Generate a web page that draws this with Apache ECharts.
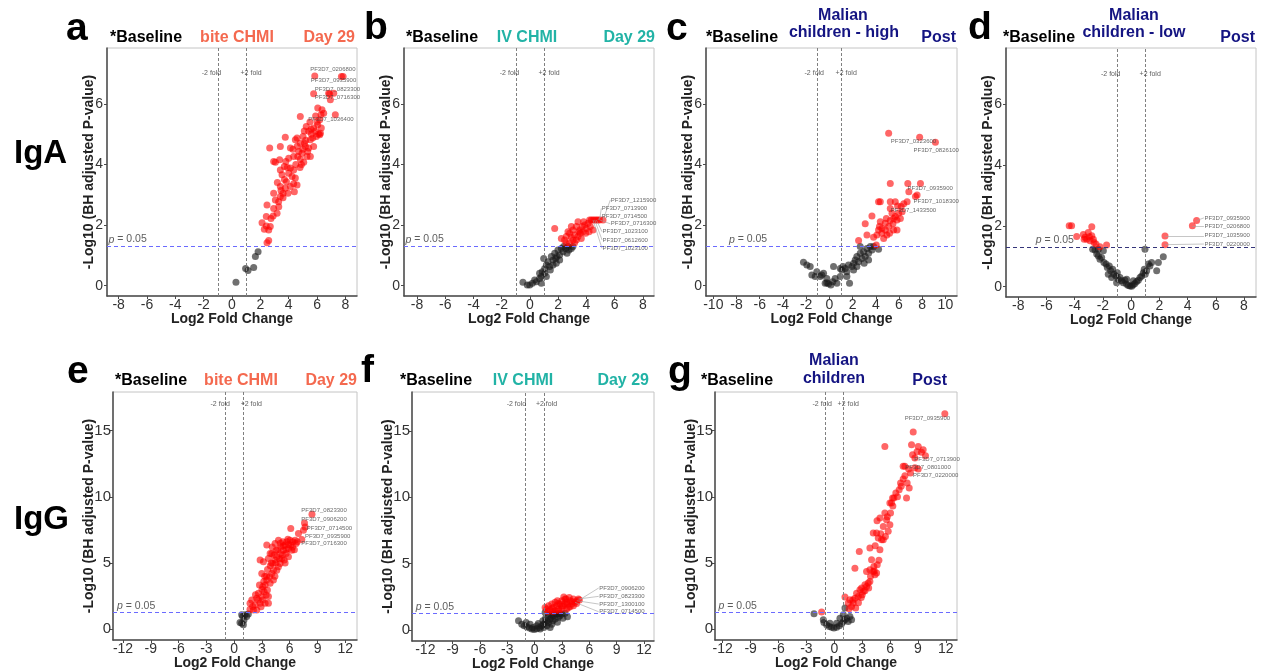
<!DOCTYPE html>
<html><head><meta charset="utf-8">
<script src="https://cdn.jsdelivr.net/npm/echarts@6/dist/echarts.min.js"></script>
<style>html,body{margin:0;padding:0;background:#fff}#c{width:1263px;height:671px}</style>
</head><body><div id="c"></div>
<script>
// ---------- DATA ----------
const xTicksTop = [-8,-6,-4,-2,0,2,4,6,8];
const xTicksC = [-10,-8,-6,-4,-2,0,2,4,6,8,10];
const xTicksBottom = [-12,-9,-6,-3,0,3,6,9,12];
const yTicksTop = [0,2,4,6];
const yTicksBottom = [0,5,10,15];
const pThreshold = 1.301; // -log10(0.05)
const foldLines = [-1, 1];

// Panel a: IgA, bite CHMI, Day 29
const aRed = [[2.47,1.42],[2.59,1.49],[2.12,2.08],[2.42,1.97],[2.59,1.84],[2.7,1.95],[2.75,2.22],[2.42,2.28],[2.28,1.86],
[2.47,2.66],[2.94,2.55],[3.06,2.83],[3.29,2.77],[3.41,2.94],[3.18,2.39],[3.6,3.05],[3.46,3.14],[3.76,3.21],[3.95,3.05],[3.41,3.27],[2.94,3.05],
[3.41,3.82],[3.53,3.66],[2.94,4.1],[3.06,4.07],[3.36,4.15],[3.69,3.93],[4.12,3.88],[4.35,3.82],[4.0,3.71],[4.24,3.6],[4.47,3.55],[4.35,3.36],[4.59,3.32],[3.84,3.43],[4.12,3.27],
[2.66,4.54],[3.41,4.59],[3.76,4.9],[4.12,4.54],[4.47,4.81],[4.59,4.87],[4.82,4.7],[5.01,4.92],[5.18,4.59],[5.41,4.54],[4.64,4.26],[4.94,4.37],[5.29,4.26],[5.06,4.07],[4.82,4.17],[4.35,4.26],[4.71,4.43],[5.34,4.43],[5.11,4.7],[5.53,4.81],
[4.82,5.58],[5.24,5.25],[5.58,5.16],[5.76,5.2],[5.88,5.09],[6.05,5.31],[6.19,5.47],[6.24,5.03],[5.95,4.92],[5.69,4.87],[5.41,5.09],[6.28,5.64],[6.35,5.8],[6.05,5.86],[6.47,5.69],[6.19,4.98],[5.76,4.59],[5.53,4.26],
[7.29,5.64],[6.94,6.13],[6.82,6.35],[6.89,6.32],[7.18,6.35],[5.76,6.33],[5.84,6.92],[7.72,6.9],[7.84,6.9],
[4.9,4.0],[5.0,4.5],[4.6,4.6],[5.2,4.8],[5.6,5.0],[6.0,5.4],[5.9,5.6],[6.3,5.2],[4.3,4.5],[4.0,4.2],[3.7,3.5],[3.9,3.9],[4.4,3.1],[3.2,3.4],[3.3,2.6],[2.9,2.3],[3.6,2.9],[4.8,3.9],[5.1,5.1],[5.5,5.4],[6.1,5.0],[4.5,4.0],[3.8,4.1]];
const aBlack = [[0.28,0.11],[0.96,0.57],[1.13,0.5],[1.53,0.6],[1.65,0.96],[1.84,1.12]];
const aLabels = [["PF3D7_0206800",5.48,7.12],["PF3D7_0935900",5.53,6.76],["PF3D7_0823300",5.81,6.48],["PF3D7_0716300",5.81,6.21],["PF3D7_1036400",5.34,5.5]];

// Panel b: IgA, IV CHMI, Day 29
const bRed = [[1.75,1.89],[2.22,1.56],[2.45,1.51],[2.57,1.62],[2.69,1.78],[2.81,1.73],[2.93,1.6],[3.04,1.84],[3.16,1.67],[3.28,1.95],[3.4,2.11],[3.52,1.84],[3.56,1.73],[3.7,1.95],[3.75,1.78],[3.87,2.0],[3.99,1.89],[4.11,2.06],[4.22,2.17],[4.34,2.17],[4.46,2.17],[4.58,2.17],[4.7,2.17],[4.81,2.17],[4.93,2.17],[5.17,2.17],[4.27,1.95],[4.46,1.84],[3.04,1.51],[3.28,1.51],[3.4,1.62],[3.63,1.56],[2.57,1.4],[2.81,1.4],[3.16,1.42],[3.47,1.78],[3.8,2.11],[4.18,1.78],[3.94,1.73],[2.93,1.95]];
const bBlack = [[-0.5,0.11],[-0.19,0.02],[-0.02,0.02],[0.17,0.08],[0.33,0.19],[0.45,0.13],[0.68,0.24],[0.8,0.3],[0.87,0.46],[1.04,0.41],[1.04,0.57],[1.16,0.68],[0.97,0.9],[1.27,0.79],[1.39,0.63],[1.51,0.96],[1.63,0.85],[1.75,1.07],[1.82,0.9],[1.91,0.96],[1.98,1.18],[2.1,1.01],[2.22,1.23],[2.34,1.12],[2.38,1.29],[2.53,1.23],[2.62,1.07],[2.69,1.29],[2.76,1.18],[2.93,1.23],[3.04,1.29],[2.1,0.85],[1.44,0.52],[0.8,0.08],[1.16,0.3],[1.63,0.68],[1.86,0.74],[0.68,0.41]];
const bLabels = [["PF3D7_1215900",5.69,2.83,5.17,2.17],["PF3D7_0713900",5.05,2.55,4.93,2.17],["PF3D7_0714500",5.05,2.3,4.81,2.17],["PF3D7_0716300",5.69,2.04,4.93,2.17],["PF3D7_1023100",5.1,1.78,4.7,2.17],["PF3D7_0612600",5.1,1.51,4.58,2.17],["PF3D7_1023100",5.1,1.23,4.46,2.17]];

// Panel c: IgA, Malian children - high, Post
const cRed = [[2.52,1.49],[3.24,1.67],[3.09,2.04],[3.67,2.3],[3.81,1.6],[4.04,1.34],[4.1,1.67],[4.24,1.84],[4.32,1.95],[4.39,2.11],[4.53,1.73],[4.68,1.56],[4.82,1.84],[4.91,2.22],[4.96,1.67],[5.11,1.95],[5.19,1.73],[5.25,2.15],[5.4,2.39],[5.48,2.04],[5.54,2.22],[5.68,2.28],[5.83,2.17],[5.97,2.39],[6.12,2.22],[6.27,2.44],[6.19,2.61],[6.41,2.7],[6.7,2.77],[6.85,3.1],[7.42,2.94],[7.56,2.99],[5.25,2.77],[5.68,2.77],[5.88,2.63],[4.24,2.77],[4.39,2.77],[5.25,3.37],[6.76,3.37],[7.85,3.37],[5.11,5.03],[7.78,4.9],[9.14,4.73],[5.25,2.55],[5.54,1.84],[5.83,1.84],[4.53,1.89],[4.82,2.06]];
const cBlack = [[-2.23,0.77],[-1.94,0.68],[-1.65,0.63],[-1.51,0.35],[-1.22,0.3],[-1.08,0.46],[-0.79,0.3],[-0.65,0.35],[-0.5,0.41],[-0.36,0.08],[-0.22,0.1],[-0.07,0.06],[0.13,0.02],[0.3,0.13],[0.5,0.24],[0.65,0.08],[0.94,0.3],[1.08,0.52],[1.17,0.63],[1.37,0.57],[1.51,0.46],[1.65,0.68],[1.74,0.08],[1.94,0.63],[2.09,0.74],[2.23,0.85],[2.37,0.96],[2.52,0.79],[2.66,1.07],[2.81,0.9],[2.95,1.12],[3.0,0.74],[3.09,0.96],[3.24,1.23],[3.38,1.07],[3.53,1.29],[3.67,1.18],[3.81,1.29],[4.24,1.2],[2.66,1.29],[2.37,0.63],[1.51,0.3],[0.94,0.57],[2.09,0.52],[3.38,0.85],[0.36,0.63],[-0.22,0.24]];
const cLabels = [["PF3D7_0323600",5.25,4.76],["PF3D7_0826100",7.21,4.48],["PF3D7_0935900",6.69,3.21],["PF3D7_1018300",7.21,2.77],["PF3D7_1433500",5.25,2.5]];

// Panel d: IgA, Malian children - low, Post
const dRed = [[-4.39,2.0],[-4.22,2.0],[-3.86,1.65],[-3.39,1.71],[-3.27,1.62],[-3.04,1.78],[-3.15,1.56],[-2.91,1.51],[-2.79,1.97],[-2.68,1.56],[-2.63,1.45],[-2.49,1.4],[-2.79,1.67],[-3.33,1.56],[-1.74,1.37],[-2.21,1.31],[-2.96,1.64],[2.4,1.66],[2.4,1.38],[4.34,2.0],[4.64,2.17]];
const dBlack = [[-2.73,1.23],[-2.56,1.2],[-2.44,1.07],[-2.32,1.01],[-2.21,0.9],[-2.09,0.96],[-1.97,1.18],[-1.93,0.79],[-1.78,0.74],[-1.69,0.63],[-1.55,0.68],[-1.45,0.52],[-1.31,0.57],[-1.22,0.41],[-1.08,0.35],[-0.98,0.46],[-0.91,0.24],[-0.79,0.3],[-0.67,0.19],[-0.56,0.13],[-0.44,0.21],[-0.32,0.08],[-0.2,0.04],[-0.08,0.02],[0.04,0.01],[0.15,0.06],[0.27,0.1],[0.39,0.17],[0.51,0.21],[0.63,0.3],[0.75,0.35],[0.86,0.46],[0.93,0.57],[1.0,0.41],[1.1,0.52],[1.22,0.74],[1.33,0.68],[1.45,0.79],[0.98,1.23],[1.93,0.79],[1.81,0.52],[2.28,0.98],[-1.38,0.3],[-1.03,0.13],[-1.62,0.41],[0.15,0.19],[-0.32,0.24],[-2.32,1.23]];
const dLabels = [["PF3D7_0935900",5.16,2.26,4.64,2.17],["PF3D7_0206800",5.16,1.99,4.34,2.0],["PF3D7_1035900",5.16,1.67,2.4,1.66],["PF3D7_0220000",5.16,1.4,2.4,1.38]];

// Panel e: IgG, bite CHMI, Day 29
const eRed = [[1.71,1.5],[2.0,1.71],[1.9,2.21],[2.26,1.83],[2.44,2.33],[2.62,2.71],[2.8,1.96],[2.98,2.46],[3.09,3.21],[3.23,2.83],[3.34,3.34],[3.52,3.71],[3.7,1.96],[3.59,2.96],[3.45,2.58],[3.81,3.96],[3.88,3.46],[4.06,4.21],[2.98,4.21],[2.8,5.22],[3.16,5.09],[3.7,5.34],[3.52,6.35],[3.88,5.72],[4.17,4.97],[4.24,4.46],[4.42,5.22],[4.53,5.97],[4.6,5.47],[4.78,4.72],[4.96,5.72],[5.04,6.22],[5.14,5.34],[5.25,6.6],[5.32,5.97],[5.5,6.35],[5.61,5.72],[5.68,6.6],[5.86,6.1],[6.04,6.72],[6.11,6.35],[6.33,6.6],[6.58,6.72],[6.69,6.47],[6.11,7.6],[6.94,7.22],[7.3,6.77],[7.48,7.47],[7.66,7.72],[7.59,8.03],[8.4,8.68],[3.34,1.96],[3.7,2.46],[2.44,1.45],[2.73,3.34],[4.24,3.71],[4.6,4.46],[4.96,4.97],[4.78,6.72],[5.4,5.22],[5.86,5.47],[6.22,5.97],[4.42,6.47],[4.06,5.72],[2.08,1.45],[1.71,1.96],
[3.0,3.0],[3.3,4.0],[3.6,4.5],[4.0,5.0],[4.3,5.6],[4.7,6.0],[5.0,6.5],[5.3,6.3],[5.6,6.0],[5.9,6.4],[6.3,6.2],[4.5,5.0],[4.9,5.3],[3.9,4.8],[3.5,4.0],[3.2,3.6],[2.6,2.2],[2.3,2.6],[4.1,6.2],[5.5,5.0],[6.5,6.0],[2.9,1.7],[3.1,2.2],[4.4,4.0],[5.2,5.6],[5.8,6.8],[6.8,6.6]];
const eBlack = [[0.81,0.45],[0.99,0.33],[0.63,0.5],[0.92,0.95],[1.17,1.08],[1.35,0.95],[1.06,0.7],[0.81,1.08],[1.53,1.15]];
const eLabels = [["PF3D7_0823300",7.2,8.98],["PF3D7_0906200",7.2,8.28],["PF3D7_0714500",7.78,7.65],["PF3D7_0935900",7.6,7.05],["PF3D7_0716300",7.2,6.47]];

// Panel f: IgG, IV CHMI, Day 29
const fRed = [[1.15,1.71],[1.33,1.59],[1.52,1.84],[1.7,1.51],[1.88,1.96],[2.06,1.71],[2.25,2.09],[2.43,1.84],[2.61,1.59],[2.79,1.96],[2.98,2.21],[3.16,1.84],[3.34,2.34],[3.52,2.09],[3.71,1.71],[3.89,2.21],[4.07,1.96],[4.25,2.34],[4.43,2.09],[4.62,2.21],[4.8,2.34],[4.91,2.27],[2.25,1.46],[2.98,1.59],[3.52,1.59],[3.89,1.76],[4.25,1.84],[1.4,1.4],[2.0,1.4],[2.5,2.2],[2.7,1.45],[3.0,1.8],[3.3,2.0],[3.6,1.95],[3.8,2.45],[4.1,2.15],[3.2,2.5],[2.6,2.0],[1.9,1.65],[4.6,2.0],[3.45,2.35]];
const fBlack = [[-1.77,0.7],[-1.41,0.45],[-1.15,0.33],[-0.86,0.25],[-0.57,0.15],[-0.31,0.08],[-0.05,0.05],[0.24,0.1],[0.53,0.2],[0.79,0.33],[0.97,0.45],[1.15,0.58],[1.33,0.7],[1.52,0.58],[1.7,0.83],[1.88,0.96],[2.06,1.08],[2.25,0.83],[2.43,1.21],[2.61,0.96],[2.79,1.08],[2.98,1.21],[1.88,0.45],[1.7,0.2],[1.33,0.33],[-0.49,0.45],[-0.93,0.58],[3.34,1.26],[0.24,0.33],[0.9,0.7],[0.6,0.08],[1.2,0.9],[1.5,1.1],[2.2,1.25],[2.5,0.6],[3.1,0.9],[1.0,0.2],[-0.2,0.2],[0.4,0.5],[2.0,0.7],[2.7,1.25],[3.6,1.0],[1.8,1.2],[1.15,1.33]];
const fLabels = [["PF3D7_0906200",7.03,3.17,4.91,2.27],["PF3D7_0823300",7.03,2.54,4.8,2.34],["PF3D7_1300100",7.03,1.96,4.62,2.21],["PF3D7_0714500",7.03,1.38,4.43,2.09]];

// Panel g: IgG, Malian children, Post
const gRed = [[-1.36,1.29],[1.15,2.42],[1.5,1.97],[1.68,2.22],[1.86,1.71],[2.04,1.97],[2.22,2.34],[2.4,2.72],[2.58,2.47],[2.76,2.97],[2.94,3.1],[3.12,2.85],[3.3,3.35],[3.47,3.23],[3.65,3.48],[3.83,3.6],[3.47,4.36],[3.83,4.49],[4.01,5.24],[4.19,4.36],[4.26,4.74],[4.37,4.11],[4.55,4.24],[4.62,4.87],[2.69,5.87],[2.22,4.61],[3.83,6.13],[4.19,7.26],[4.55,7.26],[4.73,6.88],[4.91,6.0],[5.09,6.75],[5.27,7.76],[5.44,8.77],[5.62,8.27],[5.8,7.39],[5.98,7.89],[6.05,8.77],[4.91,8.4],[5.27,6.75],[5.44,13.81],[5.98,9.53],[6.27,9.91],[6.41,9.91],[6.62,10.29],[6.98,10.54],[7.13,11.04],[7.41,11.34],[7.77,9.91],[7.84,11.04],[8.06,10.67],[8.2,11.8],[7.41,12.3],[7.59,12.3],[8.42,13.18],[8.49,14.9],[8.31,13.94],[8.67,12.93],[9.03,13.81],[9.56,13.56],[9.81,13.11],[9.38,13.36],[9.03,12.1],[8.67,12.2],[11.89,16.28],[6.16,9.53],
[2.3,1.6],[2.6,2.0],[3.0,2.6],[3.3,2.9],[3.7,3.1],[3.9,4.0],[4.3,4.4],[4.8,5.2],[4.4,6.3],[5.0,7.2],[5.5,7.0],[4.6,8.2],[5.7,8.5],[6.3,9.3],[6.8,10.0],[7.2,10.8],[7.6,11.6],[8.0,12.1],[8.9,13.4],[2.0,2.2],[1.6,1.55],[2.9,2.4]];
const gBlack = [[-2.18,1.16],[-1.18,0.71],[-1.11,0.5],[-0.82,0.33],[-0.54,0.2],[-0.29,0.15],[-0.04,0.08],[0.25,0.15],[0.54,0.25],[0.79,0.4],[0.97,0.58],[1.15,0.71],[1.33,0.83],[1.5,0.58],[1.68,0.96],[1.15,1.59],[0.97,1.08],[0.61,0.83],[1.86,0.71],[0.25,0.45],[-0.47,0.45]];
const gLabels = [["PF3D7_0935900",7.52,15.96],["PF3D7_0713900",8.56,12.8],["PF3D7_0801000",7.59,12.23],["PF3D7_0220000",8.42,11.6]];

// ---------- LAYOUT ----------
const FONT = 'Arial, "Liberation Sans", Helvetica, sans-serif';
const BLUE = '#6b6bff', NAVY = '#141482', SALMON = '#F4694F', TEAL = '#22B3A6';
const panels = [
  {red:aRed, black:aBlack, labels:aLabels, g:[107,48,250,248], xr:[-8.82,8.82], xt:xTicksTop, yr:[-0.34,7.84], yt:yTicksTop, fold:[-1.45,1.35,7.0], pl:[-8.75,1.52], pc:BLUE},
  {red:bRed, black:bBlack, labels:bLabels, g:[404,48,250,248], xr:[-8.92,8.78], xt:xTicksTop, yr:[-0.34,7.84], yt:yTicksTop, fold:[-1.45,1.35,7.0], pl:[-8.85,1.52], pc:BLUE},
  {red:cRed, black:cBlack, labels:cLabels, g:[706,48,251,248], xr:[-10.63,11.0], xt:xTicksC, yr:[-0.34,7.84], yt:yTicksTop, fold:[-1.3,1.45,7.0], pl:[-8.7,1.52], pc:BLUE},
  {red:dRed, black:dBlack, labels:dLabels, g:[1006,48,250,249], xr:[-8.87,8.85], xt:xTicksTop, yr:[-0.34,7.84], yt:yTicksTop, fold:[-1.45,1.35,7.0], pl:[-6.8,1.52], pc:'#35357a'},
  {red:eRed, black:eBlack, labels:eLabels, g:[113,392,244,248], xr:[-13.08,13.26], xt:xTicksBottom, yr:[-0.82,17.92], yt:yTicksBottom, fold:[-1.5,1.85,17.0], pl:[-12.7,1.75], pc:BLUE},
  {red:fRed, black:fBlack, labels:fLabels, g:[412,392,242,249], xr:[-13.46,13.1], xt:xTicksBottom, yr:[-0.82,17.92], yt:yTicksBottom, fold:[-2.0,1.3,17.0], pl:[-13.1,1.75], pc:BLUE},
  {red:gRed, black:gBlack, labels:gLabels, g:[715,392,242,248], xr:[-12.83,13.2], xt:xTicksBottom, yr:[-0.82,17.92], yt:yTicksBottom, fold:[-1.3,1.5,17.0], pl:[-12.5,1.75], pc:BLUE}
];

const grids=[], xAxes=[], yAxes=[], series=[];
panels.forEach((p,i)=>{
  const bottomRow = p.yt === yTicksBottom;
  grids.push({left:p.g[0], top:p.g[1], width:p.g[2], height:p.g[3], show:true, borderColor:'#c4c4c4', borderWidth:1, backgroundColor:'#fff', containLabel:false, outerBoundsMode:'none'});
  xAxes.push({type:'value', gridIndex:i, min:p.xr[0], max:p.xr[1],
    axisLine:{show:true, onZero:false, lineStyle:{color:'#4a4a4a', width:1.5}},
    axisTick:{show:true, length:3, customValues:p.xt, lineStyle:{color:'#4a4a4a'}},
    axisLabel:{customValues:p.xt, fontSize:14, color:'#333', margin:2, fontFamily:FONT},
    splitLine:{show:false},
    name:'Log2 Fold Change', nameLocation:'middle', nameGap:16, nameMoveOverlap:false,
    nameTextStyle:{fontWeight:'bold', fontSize:14, color:'#222', fontFamily:FONT}});
  yAxes.push({type:'value', gridIndex:i, min:p.yr[0], max:p.yr[1],
    axisLine:{show:true, onZero:false, lineStyle:{color:'#4a4a4a', width:1.5}},
    axisTick:{show:true, length:3, customValues:p.yt, lineStyle:{color:'#4a4a4a'}},
    axisLabel:{customValues:p.yt, fontSize:bottomRow?15:14, color:'#333', margin:bottomRow?2:4, fontFamily:FONT},
    splitLine:{show:false},
    name:'-Log10 (BH adjusted P-value)', nameLocation:'middle', nameGap:bottomRow?17:11, nameMoveOverlap:false,
    nameTextStyle:{fontWeight:'bold', fontSize:14, color:'#222', fontFamily:FONT}});
  series.push({type:'scatter', xAxisIndex:i, yAxisIndex:i, data:p.black, symbolSize:7, silent:true,
    itemStyle:{color:'rgba(25,25,25,0.78)'},
    markLine:{silent:true, symbol:['none','none'], label:{show:false}, animation:false,
      data:[
        {xAxis:foldLines[0], lineStyle:{color:'#808080', width:1, type:[3,2]}},
        {xAxis:foldLines[1], lineStyle:{color:'#808080', width:1, type:[3,2]}},
        {yAxis:pThreshold, lineStyle:{color:p.pc, width:1, type:[4,3]}}
      ]}});
  series.push({type:'scatter', xAxisIndex:i, yAxisIndex:i, data:p.red, symbolSize:7, silent:true,
    itemStyle:{color:'rgba(255,0,0,0.75)'}});
  // gene labels with leader lines
  series.push({type:'scatter', xAxisIndex:i, yAxisIndex:i, symbolSize:1, silent:true, z:5,
    itemStyle:{color:'rgba(0,0,0,0)'},
    data:p.labels.map(l=>({value:[l[1],l[2]], label:{formatter:l[0]}})),
    label:{show:true, position:'right', distance:0, fontSize:6, color:'#444', fontFamily:FONT},
    markLine:{silent:true, symbol:['none','none'], label:{show:false}, animation:false,
      lineStyle:{color:'#a0a0a0', width:0.6, type:'solid'},
      data:p.labels.filter(l=>l.length>3).map(l=>[{coord:[l[1],l[2]]},{coord:[l[3],l[4]]}])}});
  // fold and p annotations
  series.push({type:'scatter', xAxisIndex:i, yAxisIndex:i, symbolSize:1, silent:true, z:5,
    itemStyle:{color:'rgba(0,0,0,0)'},
    data:[
      {value:[p.fold[0],p.fold[2]], label:{formatter:'-2 fold', position:'inside', fontSize:7}},
      {value:[p.fold[1],p.fold[2]], label:{formatter:'+2 fold', position:'inside', fontSize:7}},
      {value:[p.pl[0],p.pl[1]], label:{formatter:'{i|p} = 0.05', position:'right', distance:0, fontSize:10.5, color:'#333',
        rich:{i:{fontStyle:'italic', fontSize:10.5, color:'#333', fontFamily:FONT}}}}
    ],
    label:{show:true, color:'#333', fontFamily:FONT}});
});

function T(x,y,text,o){
  return {type:'text', x:x, y:y, silent:true,
    style:Object.assign({text:text, fontFamily:FONT, fontWeight:'bold', fontSize:16, fill:'#000', align:'left', verticalAlign:'middle'}, o||{})};
}
const graphics = [
  T(14,154,'IgA',{fontSize:33}), T(14,520,'IgG',{fontSize:33}),
  // letters
  T(66,29,'a',{fontSize:39}), T(364,28,'b',{fontSize:39}), T(666,29,'c',{fontSize:39}), T(968,28,'d',{fontSize:39}),
  T(67,372,'e',{fontSize:39}), T(361,371,'f',{fontSize:39}), T(668,372,'g',{fontSize:39}),
  // row 1 titles
  T(110,38,'*Baseline'), T(237,38,'bite CHMI',{fill:SALMON, align:'center'}), T(355,38,'Day 29',{fill:SALMON, align:'right'}),
  T(406,38,'*Baseline'), T(527,38,'IV CHMI',{fill:TEAL, align:'center'}), T(655,38,'Day 29',{fill:TEAL, align:'right'}),
  T(706,38,'*Baseline'), T(843,16,'Malian',{fill:NAVY, align:'center'}), T(844,33,'children - high',{fill:NAVY, align:'center'}), T(956,38,'Post',{fill:NAVY, align:'right'}),
  T(1003,38,'*Baseline'), T(1134,16,'Malian',{fill:NAVY, align:'center'}), T(1134,33,'children - low',{fill:NAVY, align:'center'}), T(1255,38,'Post',{fill:NAVY, align:'right'}),
  // row 2 titles
  T(115,381,'*Baseline'), T(241,381,'bite CHMI',{fill:SALMON, align:'center'}), T(357,381,'Day 29',{fill:SALMON, align:'right'}),
  T(400,381,'*Baseline'), T(523,381,'IV CHMI',{fill:TEAL, align:'center'}), T(649,381,'Day 29',{fill:TEAL, align:'right'}),
  T(701,381,'*Baseline'), T(834,361,'Malian',{fill:NAVY, align:'center'}), T(834,379,'children',{fill:NAVY, align:'center'}), T(947,381,'Post',{fill:NAVY, align:'right'})
];

const chart = echarts.init(document.getElementById('c'), null, {renderer:'canvas'});
chart.setOption({
  backgroundColor:'#fff', animation:false,
  grid:grids, xAxis:xAxes, yAxis:yAxes, series:series, graphic:graphics
});
</script></body></html>
